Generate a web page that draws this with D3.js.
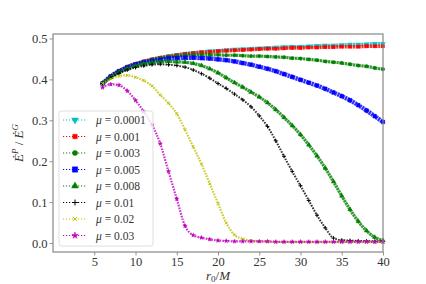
<!DOCTYPE html>
<html>
<head>
<meta charset="utf-8">
<script src="https://cdn.jsdelivr.net/npm/d3@7"></script>
<style>
  html, body { margin: 0; padding: 0; background: #fff; }
  svg text { font-family: "Liberation Serif", "DejaVu Serif", serif; fill: #333; }
</style>
</head>
<body>
<svg id="chart" width="426" height="284"></svg>
<script>
// orbital radius r0/M for every series
const r0 = [6,7,8,9,10,11,12,13,14,15,16,17,18,19,20,21,22,23,24,25,26,27,28,29,30,31,32,33,34,35,36,37,38,39,40];

// Edot^P / Edot^G, one list per mu
const mu0001 = [0.390,0.408,0.421,0.431,0.438,0.444,0.449,0.453,0.457,0.460,0.463,0.465,0.467,0.469,0.470,0.472,0.473,0.474,0.475,0.476,0.477,0.478,0.479,0.480,0.480,0.481,0.482,0.483,0.483,0.484,0.485,0.485,0.486,0.487,0.487];
const mu001  = [0.390,0.408,0.421,0.431,0.438,0.444,0.449,0.453,0.456,0.459,0.462,0.464,0.466,0.467,0.469,0.470,0.471,0.472,0.473,0.474,0.475,0.475,0.476,0.477,0.477,0.478,0.478,0.479,0.479,0.480,0.480,0.480,0.481,0.481,0.481];
const mu003  = [0.390,0.407,0.420,0.430,0.437,0.443,0.448,0.452,0.455,0.457,0.459,0.460,0.460,0.460,0.460,0.459,0.459,0.458,0.457,0.457,0.456,0.455,0.454,0.452,0.451,0.449,0.447,0.444,0.442,0.440,0.437,0.434,0.432,0.428,0.425];
const mu005  = [0.390,0.407,0.419,0.429,0.436,0.441,0.445,0.448,0.451,0.452,0.453,0.453,0.452,0.451,0.449,0.447,0.444,0.440,0.436,0.431,0.426,0.420,0.413,0.406,0.399,0.392,0.385,0.377,0.368,0.359,0.349,0.337,0.324,0.310,0.296];
const mu008  = [0.390,0.405,0.417,0.426,0.433,0.438,0.441,0.443,0.444,0.443,0.442,0.439,0.434,0.426,0.416,0.404,0.392,0.381,0.369,0.357,0.343,0.326,0.307,0.287,0.265,0.240,0.213,0.183,0.150,0.115,0.082,0.053,0.030,0.014,0.006];
const mu01   = [0.390,0.404,0.415,0.423,0.429,0.433,0.436,0.437,0.436,0.434,0.430,0.423,0.414,0.403,0.390,0.378,0.364,0.350,0.333,0.311,0.285,0.250,0.212,0.175,0.140,0.104,0.068,0.037,0.012,0.007,0.006,0.005,0.005,0.004,0.004];
const mu02   = [0.390,0.401,0.408,0.410,0.405,0.397,0.384,0.362,0.342,0.316,0.277,0.235,0.193,0.145,0.097,0.049,0.020,0.010,0.006,0.004,0.003,0.002,0.002,0.002,0.002,0.002,0.002,0.002,0.002,0.002,0.002,0.002,0.002,0.002,0.002];
const mu03   = [0.380,0.388,0.386,0.372,0.349,0.321,0.289,0.243,0.175,0.108,0.042,0.019,0.013,0.009,0.006,0.005,0.004,0.004,0.004,0.004,0.004,0.003,0.003,0.003,0.003,0.003,0.003,0.003,0.003,0.003,0.003,0.003,0.003,0.003,0.003];

const labels = ['0.0001','0.001','0.003','0.005','0.008','0.01','0.02','0.03'];
const colors = ['#00bfbf','#ff0000','#008000','#0000ff','#008000','#000000','#bfbf00','#bf00bf'];
const series = [mu0001, mu001, mu003, mu005, mu008, mu01, mu02, mu03];

const xTicks = [5,10,15,20,25,30,35,40];
const yTicks = [0.0,0.1,0.2,0.3,0.4,0.5];

// marker per series: [symbol, area, filled, rotate, band width]
const markers = [
  [d3.symbolTriangle, 9,  true, 180, 3.6],
  [d3.symbolSquare,   9,  true, 0,   3.6],
  [d3.symbolCircle,   9,  true, 0,   3.2],
  [d3.symbolSquare,   13, true, 0,   4.4],
  [d3.symbolTriangle, 9,  true, 0,   3.2],
  [d3.symbolPlus,     6,  false, 0,  2.0],
  [d3.symbolTimes,    6,  false, 0,  2.2],
  [d3.symbolStar,     6,  true, 0,   2.2],
];

const W = 426, H = 284;
const m = {left: 53, right: 43, top: 34, bottom: 32};
const svg = d3.select('#chart');

const x = d3.scaleLinear().domain([0, 40]).range([m.left, W - m.right]);
const y = d3.scaleLinear().domain([-0.022, 0.511]).range([H - m.bottom, m.top]);

const g = svg.append('g');

// curves: dense chain of markers drawn as a dashed band, plus markers at the data
const line = d3.line().x((d,i) => x(r0[i])).y(d => y(d)).curve(d3.curveMonotoneX);

series.forEach((vals, k) => {
  const col = colors[k];
  const [sym, size, filled, rot, bw] = markers[k];
  g.append('path').datum(vals)
    .attr('d', line)
    .attr('fill', 'none')
    .attr('stroke', col)
    .attr('stroke-opacity', 0.8)
    .attr('stroke-width', bw)
    .attr('stroke-dasharray', bw > 3 ? '2.2,0.6' : '1.6,1.2');
  const shape = d3.symbol().type(sym).size(size);
  g.append('g').selectAll('path').data(vals).join('path')
    .attr('d', shape)
    .attr('transform', (d,i) => `translate(${x(r0[i])},${y(d)}) rotate(${rot})`)
    .attr('fill', filled ? col : 'none')
    .attr('stroke', col)
    .attr('stroke-width', filled ? 0.4 : 0.9);
});

// axes
const xAxis = d3.axisBottom(x).tickValues(xTicks).tickSize(3.5).tickPadding(2).tickFormat(d3.format('d'));
const yAxis = d3.axisLeft(y).tickValues(yTicks).tickSize(3.5).tickPadding(2).tickFormat(d3.format('.1f'));

const gx = svg.append('g').attr('transform', `translate(0,${H - m.bottom})`).call(xAxis);
const gy = svg.append('g').attr('transform', `translate(${m.left},0)`).call(yAxis);
[gx, gy].forEach(a => {
  a.select('.domain').remove();
  a.selectAll('line').attr('stroke', '#888').attr('stroke-width', 0.9);
  a.selectAll('text').attr('font-size', 12.5).attr('fill', '#333')
    .attr('font-family', '"Liberation Serif", serif');
});

// frame
svg.append('rect')
  .attr('x', m.left).attr('y', m.top)
  .attr('width', W - m.left - m.right).attr('height', H - m.top - m.bottom)
  .attr('fill', 'none').attr('stroke', '#888').attr('stroke-width', 1.2);

// axis labels
svg.append('text')
  .attr('x', (m.left + W - m.right) / 2).attr('y', 280)
  .attr('text-anchor', 'middle').attr('font-size', 13)
  .html('<tspan font-style="italic">r</tspan><tspan font-size="9" dy="2">0</tspan><tspan dy="-2">/</tspan><tspan font-style="italic">M</tspan>');

svg.append('text')
  .attr('transform', `translate(23,${(m.top + H - m.bottom) / 2}) rotate(-90)`)
  .attr('text-anchor', 'middle').attr('font-size', 13)
  .html('<tspan font-style="italic">Ė</tspan><tspan font-size="9" dy="-5" font-style="italic">P</tspan><tspan dy="5"> / </tspan><tspan font-style="italic">Ė</tspan><tspan font-size="9" dy="-5" font-style="italic">G</tspan>');

// legend
const lg = svg.append('g').attr('transform', 'translate(59,111)');
lg.append('rect')
  .attr('width', 94).attr('height', 135).attr('rx', 2.5)
  .attr('fill', '#fff').attr('fill-opacity', 0.8)
  .attr('stroke', '#d5d5d5').attr('stroke-width', 0.8);

labels.forEach((lab, k) => {
  const ly = 9 + k * 16.5;
  const col = colors[k];
  lg.append('line')
    .attr('x1', 4).attr('x2', 27).attr('y1', ly).attr('y2', ly)
    .attr('stroke', col).attr('stroke-width', 1.1).attr('stroke-dasharray', '1.2,1.8');
  const [sym, size, filled, rot] = markers[k];
  lg.append('path')
    .attr('d', d3.symbol().type(sym).size(size * 2.2)())
    .attr('transform', `translate(16,${ly}) rotate(${rot})`)
    .attr('fill', filled ? col : 'none')
    .attr('stroke', col).attr('stroke-width', filled ? 0.5 : 1);
  lg.append('text')
    .attr('x', 37).attr('y', ly + 4)
    .attr('font-size', 11.5)
    .html(`<tspan font-style="italic">μ</tspan> = ${lab}`);
});
</script>
</body>
</html>
